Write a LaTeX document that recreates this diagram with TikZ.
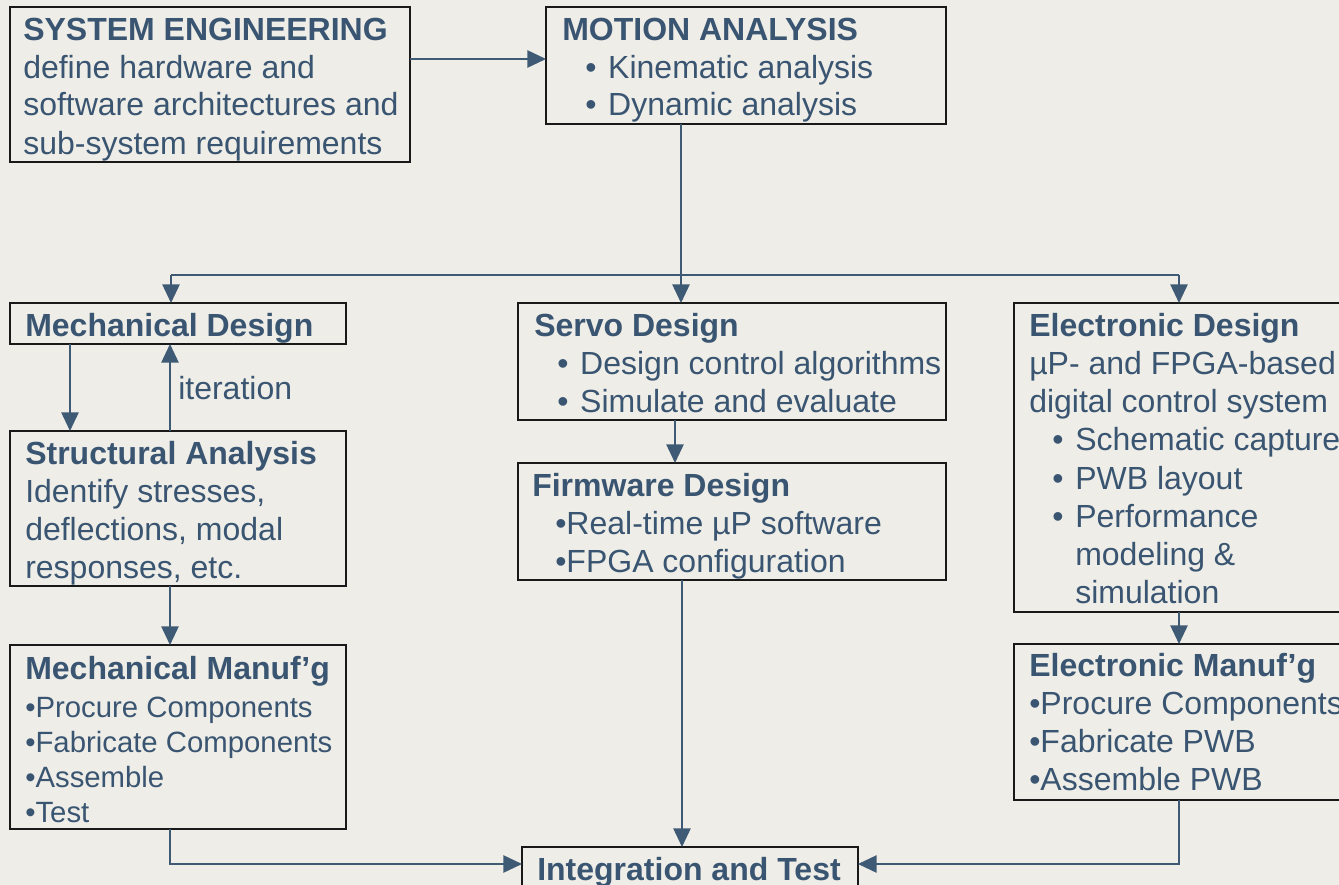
\documentclass[tikz,border=0pt]{standalone}
\usepackage{fontspec}
\setmainfont{Liberation Sans}
\usetikzlibrary{arrows.meta}
\definecolor{bgc}{HTML}{EEEDE7}
\definecolor{txc}{HTML}{3A5571}
\definecolor{lnc}{HTML}{3F5A74}
\newcommand\bitem{\hspace*{17.25pt}\makebox[17.25pt][l]{•}}
\newcommand\blk[1]{\begin{tabular}[t]{@{}l@{}}#1\end{tabular}}
\newcommand\pbox[5]{\node[box, minimum width={(#4-#2)*0.75pt}, minimum height={(#5-#3)*0.75pt}] (#1) at (#2,#3) {};}
\begin{document}
\begin{tikzpicture}[x=0.75pt,y=-0.75pt,
  box/.style={draw=black!90, line width=1.5pt, anchor=north west, inner sep=0pt, outer sep=0pt},
  txtn/.style={anchor=base west, inner sep=0pt, text=txc, font=\fontsize{24}{28.5}\selectfont},
  conn/.style={draw=lnc, line width=1.2pt},
  arr/.style={draw=lnc, line width=1.2pt, -{Triangle[length=14pt,width=13pt]}}]
\useasboundingbox (0,0) rectangle (1339,885);
\fill[bgc] (0,0) rectangle (1339,885);
\clip (0,0) rectangle (1339,885);

% boxes
\pbox{se}{10}{7}{410}{162}
\pbox{ma}{546}{7}{946}{124}
\pbox{md}{10}{303}{346}{344}
\pbox{sa}{10}{431}{346}{586}
\pbox{mm}{10}{645}{346}{829}
\pbox{sd}{518}{303}{946}{420}
\pbox{fd}{518}{463}{946}{580}
\pbox{ed}{1014}{303}{1365}{612}
\pbox{em}{1014}{644}{1365}{800}
\pbox{it}{522}{847}{858}{905}

% texts
\node[txtn] (seT) at (23,40) {\blk{\textbf{SYSTEM ENGINEERING}\\define hardware and\\software architectures and\\sub-system requirements}};
\node[txtn] (maT) at (562,40) {\blk{\textbf{MOTION ANALYSIS}\\\bitem Kinematic analysis\\\bitem Dynamic analysis}};
\node[txtn] (mdT) at (25,336) {\textbf{Mechanical Design}};
\node[txtn] (itr) at (178,399) {iteration};
\node[txtn] (saT) at (25,464) {\blk{\textbf{Structural Analysis}\\Identify stresses,\\deflections, modal\\responses, etc.}};
\node[txtn] (mmT) at (25,679) {\fontsize{22}{26.25}\selectfont\blk{\fontsize{24}{28.5}\selectfont\textbf{Mechanical Manuf’g}\\[2.25pt]•Procure Components\\•Fabricate Components\\•Assemble\\•Test}};
\node[txtn] (sdT) at (534,336) {\blk{\textbf{Servo Design}\\\bitem Design control algorithms\\\bitem Simulate and evaluate}};
\node[txtn] (fdT) at (532,496) {\blk{\textbf{Firmware Design}\\\hspace*{17.25pt}•Real-time µP software\\\hspace*{17.25pt}•FPGA configuration}};
\node[txtn] (edT) at (1029,336) {\fontsize{24}{28.7}\selectfont\blk{\textbf{Electronic Design}\\µP- and FPGA-based\\digital control system\\\bitem Schematic capture\\\bitem PWB layout\\\bitem Performance\\\hspace*{34.5pt}modeling \&\\\hspace*{34.5pt}simulation}};
\node[txtn] (emT) at (1029,676) {\blk{\textbf{Electronic Manuf’g}\\•Procure Components\\•Fabricate PWB\\•Assemble PWB}};
\node[txtn] (itT) at (537,880) {\textbf{Integration and Test}};

% connectors
\coordinate (jA) at (0,59);
\draw[arr] (se.east |- jA) -- (ma.west |- jA);
\coordinate (bA) at (681,275);
\coordinate (bL) at (171,275);
\coordinate (bR) at (1179,275);
\draw[conn] (bA |- ma.south) -- (bA);
\draw[conn] (bL) -- (bR);
\draw[arr] (bL) -- (bL |- md.north);
\draw[arr] (bA) -- (bA |- sd.north);
\draw[arr] (bR) -- (bR |- ed.north);
\coordinate (xa) at (70,0);
\coordinate (xb) at (170,0);
\coordinate (xc) at (675,0);
\coordinate (xd) at (682,0);
\coordinate (yb) at (0,864);
\draw[arr] (xa |- md.south) -- (xa |- sa.north);
\draw[arr] (xb |- sa.north) -- (xb |- md.south);
\draw[arr] (xb |- sa.south) -- (xb |- mm.north);
\draw[arr] (xc |- sd.south) -- (xc |- fd.north);
\draw[arr] (xd |- fd.south) -- (xd |- it.north);
\draw[arr] (bR |- ed.south) -- (bR |- em.north);
\draw[arr] (xb |- mm.south) -- (xb |- yb) -- (it.west |- yb);
\draw[arr] (bR |- em.south) -- (bR |- yb) -- (it.east |- yb);
\end{tikzpicture}
\end{document}
